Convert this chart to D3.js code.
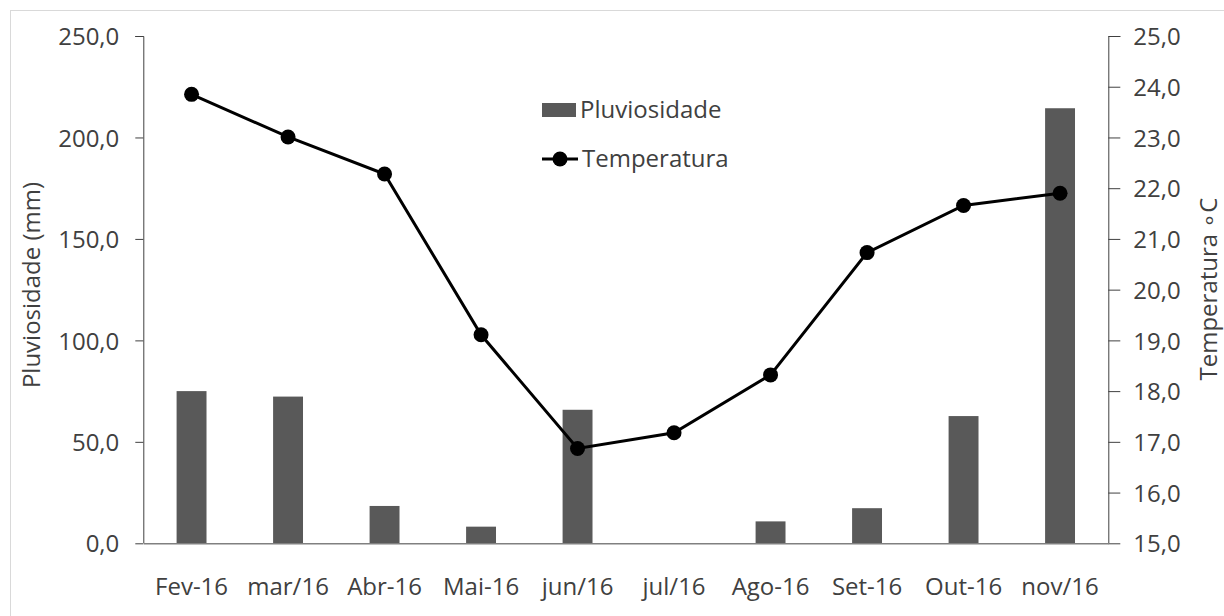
<!DOCTYPE html>
<html lang="pt">
    <head>
        <meta charset="utf-8">
        <title>Pluviosidade e Temperatura</title>
        <script src="https://d3js.org/d3.v7.min.js"></script>
        <style type="text/css">
            html, body { margin: 0; padding: 0; background: #fff; overflow: hidden; }
            svg { display: block; }
        </style>
    </head>
    <body>
        <script>
            // data
            var months = ["Fev-16", "mar/16", "Abr-16", "Mai-16", "jun/16", "jul/16", "Ago-16", "Set-16", "Out-16", "nov/16"];
            var rain = [75.0, 72.3, 18.4, 8.2, 65.8, 0, 10.8, 17.3, 62.7, 214.4];
            var temp = [23.85, 23.01, 22.28, 19.11, 16.87, 17.18, 18.32, 20.73, 21.66, 21.90];
            var rainTicks = [0, 50, 100, 150, 200, 250];
            var tempTicks = [15, 16, 17, 18, 19, 20, 21, 22, 23, 24, 25];

            // config
            var outerWidth = 1224;
            var outerHeight = 616;
            var margin = { left: 143.3, top: 36, right: 1224 - 1108.3, bottom: 616 - 543.3 };
            var innerWidth = outerWidth - margin.left - margin.right;
            var innerHeight = outerHeight - margin.top - margin.bottom;
            var font = "Open Sans, sans-serif";

            var fmt = function (d) { return d3.format(".1f")(d).replace(".", ","); };

            var svg = d3.select("body")
                        .append("svg")
                        .attr("width", outerWidth)
                        .attr("height", outerHeight)
                        .attr("font-family", font)
                        .attr("font-size", 24);

            // chart frame (only top and left edges are inside the picture)
            svg.append("line")
                .attr("x1", 10.5).attr("x2", 10.5).attr("y1", 10).attr("y2", outerHeight)
                .attr("stroke", "#d9d9d9");
            svg.append("line")
                .attr("x1", 10).attr("x2", outerWidth).attr("y1", 10.5).attr("y2", 10.5)
                .attr("stroke", "#d9d9d9");

            var g = svg.append("g")
                .attr("transform", "translate(" + margin.left + "," + margin.top + ")");

            var xScale = d3.scaleBand().domain(months).range([0, innerWidth])
                .paddingInner(0.69).paddingOuter(0.345);
            var xCenter = d3.scaleBand().domain(months).range([0, innerWidth]).padding(0);
            var yRain = d3.scaleLinear().domain([0, 250]).range([innerHeight, 0]);
            var yTemp = d3.scaleLinear().domain([15, 25]).range([innerHeight, 0]);

            // bars
            g.selectAll("rect.bar").data(rain).enter().append("rect")
                .attr("class", "bar")
                .attr("x", function (d, i) { return xScale(months[i]); })
                .attr("width", xScale.bandwidth())
                .attr("y", function (d) { return yRain(d); })
                .attr("height", function (d) { return innerHeight - yRain(d); })
                .attr("fill", "#595959");

            // left axis
            var leftAxis = g.append("g")
                .call(d3.axisLeft(yRain).tickValues(rainTicks).tickFormat(fmt).tickSize(8).tickPadding(16))
                .attr("font-family", font).attr("font-size", 24);
            leftAxis.select(".domain").attr("stroke", "#404040").attr("d", "M-8,0.5H0.5V" + innerHeight);
            leftAxis.selectAll(".tick line").attr("stroke", "#404040");
            leftAxis.selectAll("text").attr("fill", "#404040").attr("dy", "0.36em");

            // right axis
            var rightAxis = g.append("g")
                .attr("transform", "translate(" + innerWidth + ",0)")
                .call(d3.axisRight(yTemp).tickValues(tempTicks).tickFormat(fmt).tickSize(12).tickPadding(13))
                .attr("font-family", font).attr("font-size", 24);
            rightAxis.select(".domain").attr("stroke", "#404040").attr("d", "M12,0.5H0.5V" + innerHeight);
            rightAxis.selectAll(".tick line").attr("stroke", "#404040");
            rightAxis.selectAll("text").attr("fill", "#404040").attr("dy", "0.36em");

            // bottom axis
            var bottomAxis = g.append("g")
                .attr("transform", "translate(0," + innerHeight + ")")
                .call(d3.axisBottom(xCenter).tickSize(0).tickPadding(35))
                .attr("font-family", font).attr("font-size", 24);
            bottomAxis.select(".domain").attr("stroke", "#808080").attr("stroke-width", 1.5);
            bottomAxis.selectAll("text").attr("fill", "#404040");

            // temperature line
            var line = d3.line()
                .x(function (d, i) { return xCenter(months[i]) + xCenter.bandwidth() / 2; })
                .y(function (d) { return yTemp(d); });

            g.append("path")
                .datum(temp)
                .attr("d", line)
                .attr("fill", "none")
                .attr("stroke", "#000")
                .attr("stroke-width", 3);

            g.selectAll("circle.pt").data(temp).enter().append("circle")
                .attr("class", "pt")
                .attr("cx", function (d, i) { return xCenter(months[i]) + xCenter.bandwidth() / 2; })
                .attr("cy", function (d) { return yTemp(d); })
                .attr("r", 7.5)
                .attr("fill", "#000");

            // axis titles
            svg.append("text")
                .attr("transform", "translate(40,285) rotate(-90)")
                .attr("text-anchor", "middle")
                .attr("fill", "#404040")
                .text("Pluviosidade (mm)");

            svg.append("text")
                .attr("transform", "translate(1217,289) rotate(-90)")
                .attr("text-anchor", "middle")
                .attr("fill", "#404040")
                .text("Temperatura \u2218C");

            // legend
            var legend = svg.append("g");
            legend.append("rect")
                .attr("x", 542).attr("y", 103)
                .attr("width", 34).attr("height", 14)
                .attr("fill", "#595959");
            legend.append("text")
                .attr("x", 580).attr("y", 118)
                .attr("fill", "#404040")
                .text("Pluviosidade");
            legend.append("line")
                .attr("x1", 542).attr("x2", 578)
                .attr("y1", 159).attr("y2", 159)
                .attr("stroke", "#000").attr("stroke-width", 3);
            legend.append("circle")
                .attr("cx", 560).attr("cy", 159).attr("r", 7.5)
                .attr("fill", "#000");
            legend.append("text")
                .attr("x", 582).attr("y", 167)
                .attr("fill", "#404040")
                .text("Temperatura");
        </script>
    </body>
</html>
